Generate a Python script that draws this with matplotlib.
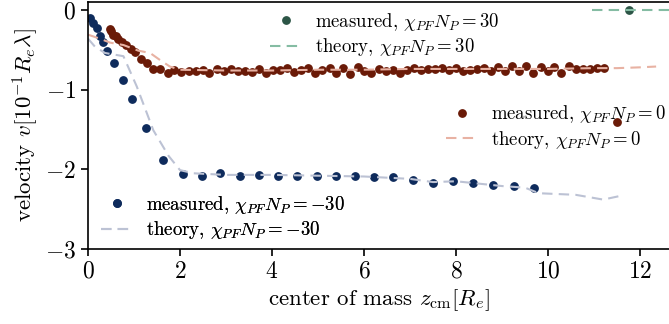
import matplotlib
matplotlib.use("Agg")
import matplotlib.pyplot as plt
from matplotlib.lines import Line2D

plt.rcParams['font.family'] = 'serif'
plt.rcParams['font.serif'] = ['cmr10']
plt.rcParams['mathtext.fontset'] = 'cm'
plt.rcParams['axes.formatter.use_mathtext'] = True

# measured, chi N = -30
zm_neg = [0.04, 0.10, 0.19, 0.26, 0.33, 0.42, 0.57, 0.75, 0.96, 1.25, 1.63, 2.06, 2.47,
          2.88, 3.30, 3.72, 4.14, 4.55, 4.97, 5.39, 5.80, 6.22, 6.64, 7.07, 7.51, 7.94,
          8.38, 8.81, 9.26, 9.70]
vm_neg = [-0.10, -0.16, -0.23, -0.33, -0.40, -0.52, -0.66, -0.88, -1.12, -1.48, -1.88, -2.06, -2.09,
          -2.05, -2.08, -2.07, -2.08, -2.09, -2.09, -2.09, -2.09, -2.10, -2.10, -2.14, -2.17, -2.15,
          -2.17, -2.20, -2.21, -2.24]
# theory, chi N = -30
zt_neg = [0.0, 0.15, 0.37, 0.77, 1.06, 1.42, 1.75, 2.0, 2.3, 3, 4, 5, 6, 7, 7.5, 8, 8.5, 9,
          9.5, 9.8, 10.2, 10.6, 11.2, 11.6]
vt_neg = [-0.36, -0.46, -0.54, -0.58, -0.96, -1.51, -1.83, -2.01, -2.05, -2.07, -2.07, -2.08,
          -2.09, -2.12, -2.16, -2.15, -2.18, -2.21, -2.23, -2.30, -2.31, -2.32, -2.38, -2.33]

# measured, chi N = 0
zm_0 = [0.48, 0.51, 0.55, 0.61, 0.66, 0.73, 0.82, 0.93, 1.02, 1.15, 1.28,
        1.42, 1.57, 1.73, 1.88, 2.03, 2.19, 2.34, 2.49, 2.64, 2.80, 2.95, 3.10,
        3.26, 3.41, 3.56, 3.72, 3.87, 4.02, 4.17, 4.33, 4.48, 4.63, 4.79, 4.94,
        5.09, 5.25, 5.40, 5.55, 5.70, 5.86, 6.01, 6.16, 6.32, 6.47, 6.62, 6.78,
        6.93, 7.08, 7.23, 7.39, 7.54, 7.69, 7.85, 8.00, 8.15, 8.31, 8.46, 8.61,
        8.76, 8.92, 9.07, 9.22, 9.38, 9.53, 9.68, 9.84, 9.99, 10.14, 10.29, 10.45,
        10.60, 10.75, 10.91, 11.06, 11.21, 11.49]
vm_0 = [-0.24, -0.27, -0.31, -0.33, -0.36, -0.40, -0.44, -0.49, -0.53, -0.61, -0.66,
        -0.74, -0.74, -0.79, -0.75, -0.78, -0.76, -0.77, -0.75, -0.79, -0.74, -0.77, -0.74,
        -0.76, -0.76, -0.78, -0.74, -0.79, -0.75, -0.75, -0.73, -0.78, -0.75, -0.73, -0.79,
        -0.75, -0.73, -0.79, -0.73, -0.80, -0.72, -0.76, -0.79, -0.74, -0.76, -0.75, -0.79,
        -0.75, -0.73, -0.75, -0.745, -0.745, -0.73, -0.75, -0.73, -0.76, -0.75, -0.745, -0.73,
        -0.76, -0.72, -0.77, -0.70, -0.77, -0.70, -0.79, -0.72, -0.76, -0.71, -0.79, -0.70,
        -0.74, -0.745, -0.745, -0.73, -0.73, -1.41]
# theory, chi N = 0
zt_0 = [0.0, 0.26, 0.48, 0.77, 1.09, 1.35, 1.57, 1.78, 2.0, 3, 4, 5, 6, 7, 8, 9, 10, 11,
        11.5, 12, 12.35]
vt_0 = [-0.31, -0.36, -0.41, -0.44, -0.51, -0.54, -0.63, -0.71, -0.75, -0.76, -0.76, -0.75,
        -0.75, -0.74, -0.74, -0.74, -0.74, -0.73, -0.73, -0.72, -0.71]

# chi N = 30
zm_pos = [11.77]
vm_pos = [0.0]
zt_pos = [10.95, 12.8]
vt_pos = [0.0, 0.0]

c_neg, c_neg_t = '#0e2b5c', '#bcc2d4'
c_0, c_0_t = '#6a1a07', '#e8b2a3'
c_pos, c_pos_t = '#2c5546', '#85bca3'

fig = plt.figure(figsize=(6.69, 3.24), dpi=100)
ax = fig.add_axes([88 / 669, 75 / 324, 581 / 669, 247 / 324])

ax.plot(zm_neg, vm_neg, 'o', ms=5.3, color=c_neg, ls='none')
ax.plot(zm_0, vm_0, 'o', ms=5.3, color=c_0, ls='none')
ax.plot(zm_pos, vm_pos, 'o', ms=5.3, color=c_pos, ls='none', clip_on=False)
ax.plot(zt_neg, vt_neg, '--', lw=1.5, color=c_neg_t, dashes=(5, 3))
ax.plot(zt_0, vt_0, '--', lw=1.5, color=c_0_t, dashes=(5, 3))
ax.plot(zt_pos, vt_pos, '--', lw=1.5, color=c_pos_t, dashes=(5, 3))

ax.set_xlim(0, 12.63)
ax.set_ylim(-3, 0.1)
ax.set_xticks([0, 2, 4, 6, 8, 10, 12])
ax.set_yticks([0, -1, -2, -3])
ax.spines['right'].set_visible(False)
ax.tick_params(labelsize=17, length=5, width=1.2, direction='out')
for s in ['left', 'bottom', 'top']:
    ax.spines[s].set_linewidth(1.2)
ax.set_xlabel(r'center of mass $z_{\mathrm{cm}}[R_e]$', fontsize=16.5, labelpad=3)
ax.set_ylabel(r'velocity $v[10^{-1}R_e\lambda]$', fontsize=16.5, labelpad=3)


def make_legend(col_m, col_t, val, anchor):
    h = [Line2D([], [], marker='o', ms=5.3, color=col_m, ls='none'),
         Line2D([], [], color=col_t, ls='--', lw=1.5, dashes=(5, 3))]
    lab = [r'measured, $\chi_{PF}N_P = %s$' % val, r'theory, $\chi_{PF}N_P = %s$' % val]
    leg = ax.legend(h, lab, loc='center', bbox_to_anchor=anchor, frameon=False,
                    fontsize=13.5, handlelength=1.7, labelspacing=0.2, handletextpad=0.7)
    ax.add_artist(leg)


make_legend(c_pos, c_pos_t, '30', (0.511, 0.868))
make_legend(c_0, c_0_t, '0', (0.806, 0.494))
make_legend(c_neg, c_neg_t, '-30', (0.232, 0.128))

fig.savefig('out.png', dpi=100)
